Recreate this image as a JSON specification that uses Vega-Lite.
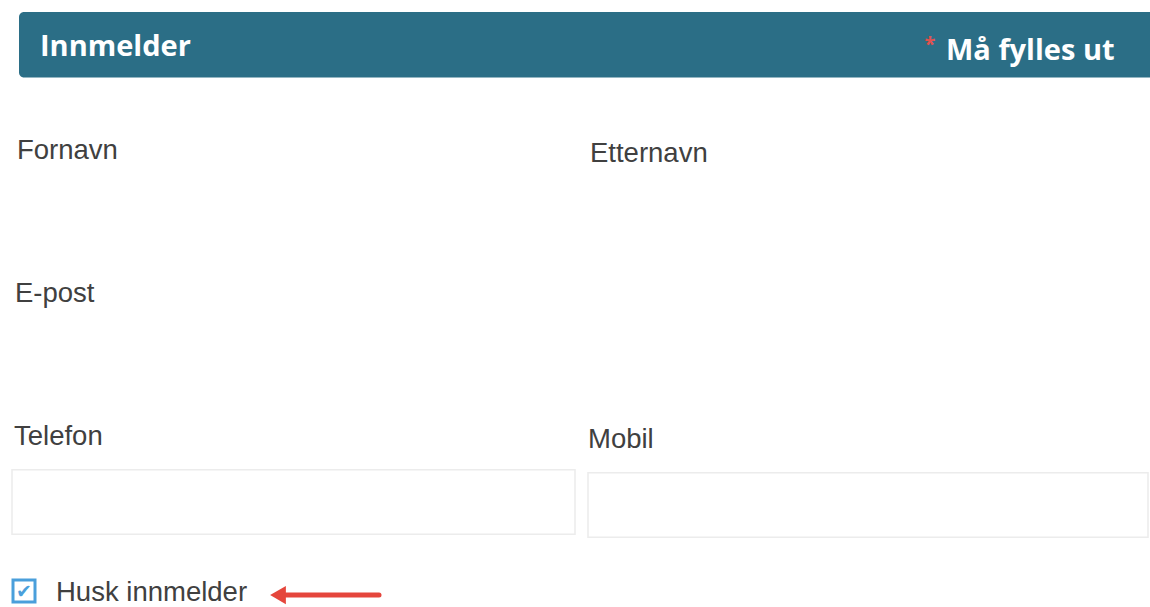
{
  "$schema": "https://vega.github.io/schema/vega-lite/v6.json",
  "width": 1150,
  "height": 607,
  "autosize": {"type": "fit", "contains": "padding"},
  "padding": 0,
  "background": "white",
  "config": {"view": {"stroke": null}},
  "encoding": {
    "x": {"type": "quantitative", "scale": {"domain": [0, 1150], "nice": false, "zero": false}, "axis": null},
    "y": {"type": "quantitative", "scale": {"domain": [607, 0], "nice": false, "zero": false}, "axis": null}
  },
  "layer": [
    {
      "data": {"values": [{"part": "header", "x0": 19, "x1": 1165, "y0": 12, "y1": 78}]},
      "mark": {"type": "rect", "color": "#2b6e86", "cornerRadius": 5, "clip": true},
      "encoding": {"x": {"field": "x0", "type": "quantitative"}, "x2": {"field": "x1"}, "y": {"field": "y0", "type": "quantitative"}, "y2": {"field": "y1"}}
    },
    {
      "data": {"values": [
        {"field": "Telefon", "x0": 12, "x1": 575, "y0": 472, "y1": 537},
        {"field": "Mobil", "x0": 588, "x1": 1148, "y0": 475, "y1": 540}
      ]},
      "mark": {"type": "rect", "fill": "white", "stroke": "#ececec", "strokeWidth": 1.5},
      "encoding": {"x": {"field": "x0", "type": "quantitative"}, "x2": {"field": "x1"}, "y": {"field": "y0", "type": "quantitative"}, "y2": {"field": "y1"}}
    },
    {
      "data": {"values": [{"part": "checkbox", "x0": 13, "x1": 35, "y0": 583, "y1": 605}]},
      "mark": {"type": "rect", "fill": "white", "stroke": "#4a9fdb", "strokeWidth": 3},
      "encoding": {"x": {"field": "x0", "type": "quantitative"}, "x2": {"field": "x1"}, "y": {"field": "y0", "type": "quantitative"}, "y2": {"field": "y1"}}
    },
    {
      "data": {"values": [{"mark": "✔", "x": 24, "y": 595}]},
      "mark": {"type": "text", "font": "DejaVu Sans", "fontSize": 19, "fontWeight": "bold", "color": "#4a9fdb", "align": "center", "baseline": "middle"},
      "encoding": {"x": {"field": "x"}, "y": {"field": "y"}, "text": {"field": "mark"}}
    },
    {
      "data": {"values": [
        {"label": "Innmelder", "x": 40, "y": 47},
        {"label": "Må fylles ut", "x": 946, "y": 51}
      ]},
      "mark": {"type": "text", "font": "Open Sans", "fontWeight": "bold", "fontSize": 29, "color": "white", "align": "left", "baseline": "middle"},
      "encoding": {"x": {"field": "x"}, "y": {"field": "y"}, "text": {"field": "label"}}
    },
    {
      "data": {"values": [{"label": "*", "x": 930, "y": 45}]},
      "mark": {"type": "text", "font": "Open Sans", "fontWeight": "bold", "fontSize": 20, "color": "#e0524f", "align": "center", "baseline": "middle"},
      "encoding": {"x": {"field": "x"}, "y": {"field": "y"}, "text": {"field": "label"}}
    },
    {
      "data": {"values": [
        {"label": "Fornavn", "x": 17, "y": 160},
        {"label": "Etternavn", "x": 590, "y": 163},
        {"label": "E-post", "x": 15, "y": 303},
        {"label": "Telefon", "x": 14, "y": 447},
        {"label": "Mobil", "x": 588, "y": 450},
        {"label": "Husk innmelder", "x": 56, "y": 604}
      ]},
      "mark": {"type": "text", "font": "Liberation Sans", "fontSize": 27.5, "color": "#404040", "align": "left", "baseline": "alphabetic"},
      "encoding": {"x": {"field": "x"}, "y": {"field": "y"}, "text": {"field": "label"}}
    },
    {
      "data": {"values": [{"part": "arrow", "x0": 285, "x1": 379, "y": 598}]},
      "mark": {"type": "rule", "color": "#e5463c", "strokeWidth": 5, "strokeCap": "round"},
      "encoding": {"x": {"field": "x0", "type": "quantitative"}, "x2": {"field": "x1"}, "y": {"field": "y", "type": "quantitative"}}
    },
    {
      "data": {"values": [{"part": "arrowhead", "x": 278, "y": 598}]},
      "mark": {"type": "point", "shape": "triangle-left", "filled": true, "color": "#e5463c", "size": 330, "opacity": 1},
      "encoding": {"x": {"field": "x", "type": "quantitative"}, "y": {"field": "y", "type": "quantitative"}}
    }
  ]
}
